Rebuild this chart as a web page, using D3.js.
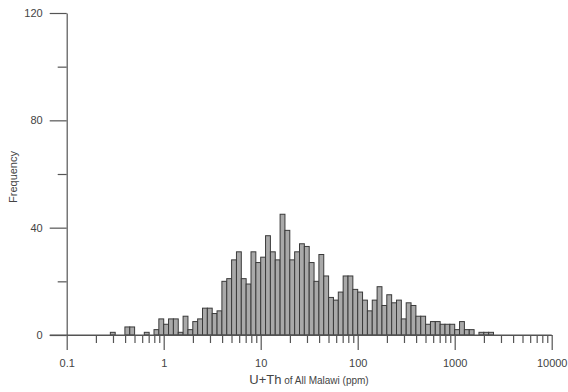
<!DOCTYPE html>
<html>
<head>
<meta charset="utf-8">
<script src="https://cdn.jsdelivr.net/npm/d3@7"></script>
<style>
  html, body { margin: 0; padding: 0; background: #fff; }
  svg { display: block; font-family: "Liberation Sans", Arial, sans-serif; }
</style>
</head>
<body>
<svg id="chart" width="568" height="392"></svg>
<script>
// ---- data ----
// histogram of U+Th (ppm), bins of equal width in log10 space, starting at 0.1
const binStartLog = -1;          // log10 of first bin's lower edge
const binWidthLog = 0.05;        // bin width in log10 units
const counts = [
  0, 0, 0, 0, 0, 0, 0, 0, 0, 1,      // 0-9
  0, 0, 3, 3, 0, 0, 1, 0, 2, 6,      // 10-19
  4, 6, 6, 1, 7, 2, 5, 6, 10, 10,    // 20-29
  8, 9, 20, 21, 28, 31, 21, 19, 31, 27, // 30-39
  29, 37, 31, 28, 45, 39, 28, 31, 34, 33, // 40-49
  27, 20, 30, 22, 14, 13, 16, 22, 22, 17, // 50-59
  16, 13, 9, 13, 18, 11, 15, 12, 13, 6,  // 60-69
  12, 11, 7, 7, 4, 5, 5, 4, 4, 4,        // 70-79
  2, 5, 2, 2, 0, 1, 1, 1                 // 80-87
];
const xMajorTicks = [0.1, 1, 10, 100, 1000, 10000];
const xTickLabels = ["0.1", "1", "10", "100", "1000", "10000"];
const yMajorTicks = [0, 40, 80, 120];
const yMinorTicks = [20, 60, 100];
const yLabel = "Frequency";
const xLabelMain = "U+Th";
const xLabelSub = " of All Malawi (ppm)";

// ---- layout ----
const svg = d3.select("#chart");
const axisColor = "#555";
const textColor = "#444";

const x = d3.scaleLog().domain([0.1, 10000]).range([66.7, 551.7]);
const y = d3.scaleLinear().domain([0, 120]).range([335, 13]);

const bins = counts.map((c, i) => ({
  x0: Math.pow(10, binStartLog + i * binWidthLog),
  x1: Math.pow(10, binStartLog + (i + 1) * binWidthLog),
  count: c
})).filter(d => d.count > 0);

// bars
svg.append("g").selectAll("rect").data(bins).join("rect")
  .attr("x", d => x(d.x0))
  .attr("width", d => x(d.x1) - x(d.x0))
  .attr("y", d => y(d.count))
  .attr("height", d => y(0) - y(d.count))
  .attr("fill", "#a9a9a9")
  .attr("stroke", "#3a3a3a")
  .attr("stroke-width", 1);

// minor x ticks: 2..9 in each decade
const xMinor = [];
for (let i = 0; i < xMajorTicks.length - 1; i++) {
  for (let m = 2; m <= 9; m++) xMinor.push(xMajorTicks[i] * m);
}

function styleAxis(g) {
  g.selectAll("path").attr("stroke", axisColor).attr("stroke-width", 1.2);
  g.selectAll("line").attr("stroke", axisColor).attr("stroke-width", 1.2);
  g.selectAll("text").attr("fill", textColor).style("font-size", "11px")
    .style("font-family", "'Liberation Sans', Arial, sans-serif");
}

// x axis minor
svg.append("g").attr("transform", `translate(0,${y(0)})`)
  .call(d3.axisBottom(x).tickValues(xMinor).tickSize(8).tickFormat(""))
  .call(g => g.select("path").remove())
  .call(styleAxis);

// x axis major
svg.append("g").attr("transform", `translate(0,${y(0)})`)
  .call(d3.axisBottom(x).tickValues(xMajorTicks).tickSizeInner(15).tickSizeOuter(0)
    .tickPadding(9).tickFormat((d, i) => xTickLabels[i]))
  .call(styleAxis);

// y axis minor
svg.append("g").attr("transform", `translate(${x(0.1)},0)`)
  .call(d3.axisLeft(y).tickValues(yMinorTicks).tickSize(9).tickFormat(""))
  .call(g => g.select("path").remove())
  .call(styleAxis);

// y axis major
svg.append("g").attr("transform", `translate(${x(0.1)},0)`)
  .call(d3.axisLeft(y).tickValues(yMajorTicks).tickSizeInner(17).tickSizeOuter(0)
    .tickPadding(7).tickFormat(d3.format("d")))
  .call(styleAxis);

// extend x-axis line slightly left to meet the zero tick
svg.append("line")
  .attr("x1", x(0.1) - 17).attr("x2", x(10000))
  .attr("y1", y(0)).attr("y2", y(0))
  .attr("stroke", axisColor).attr("stroke-width", 1.2);

// y label
svg.append("text")
  .attr("transform", `translate(17,177) rotate(-90)`)
  .attr("text-anchor", "middle")
  .attr("fill", textColor)
  .style("font-size", "11px")
  .text(yLabel);

// x label
const xl = svg.append("text")
  .attr("x", 309).attr("y", 384)
  .attr("text-anchor", "middle")
  .attr("fill", textColor);
xl.append("tspan").style("font-size", "13px").text(xLabelMain);
xl.append("tspan").style("font-size", "10px").text(xLabelSub);
</script>
</body>
</html>
